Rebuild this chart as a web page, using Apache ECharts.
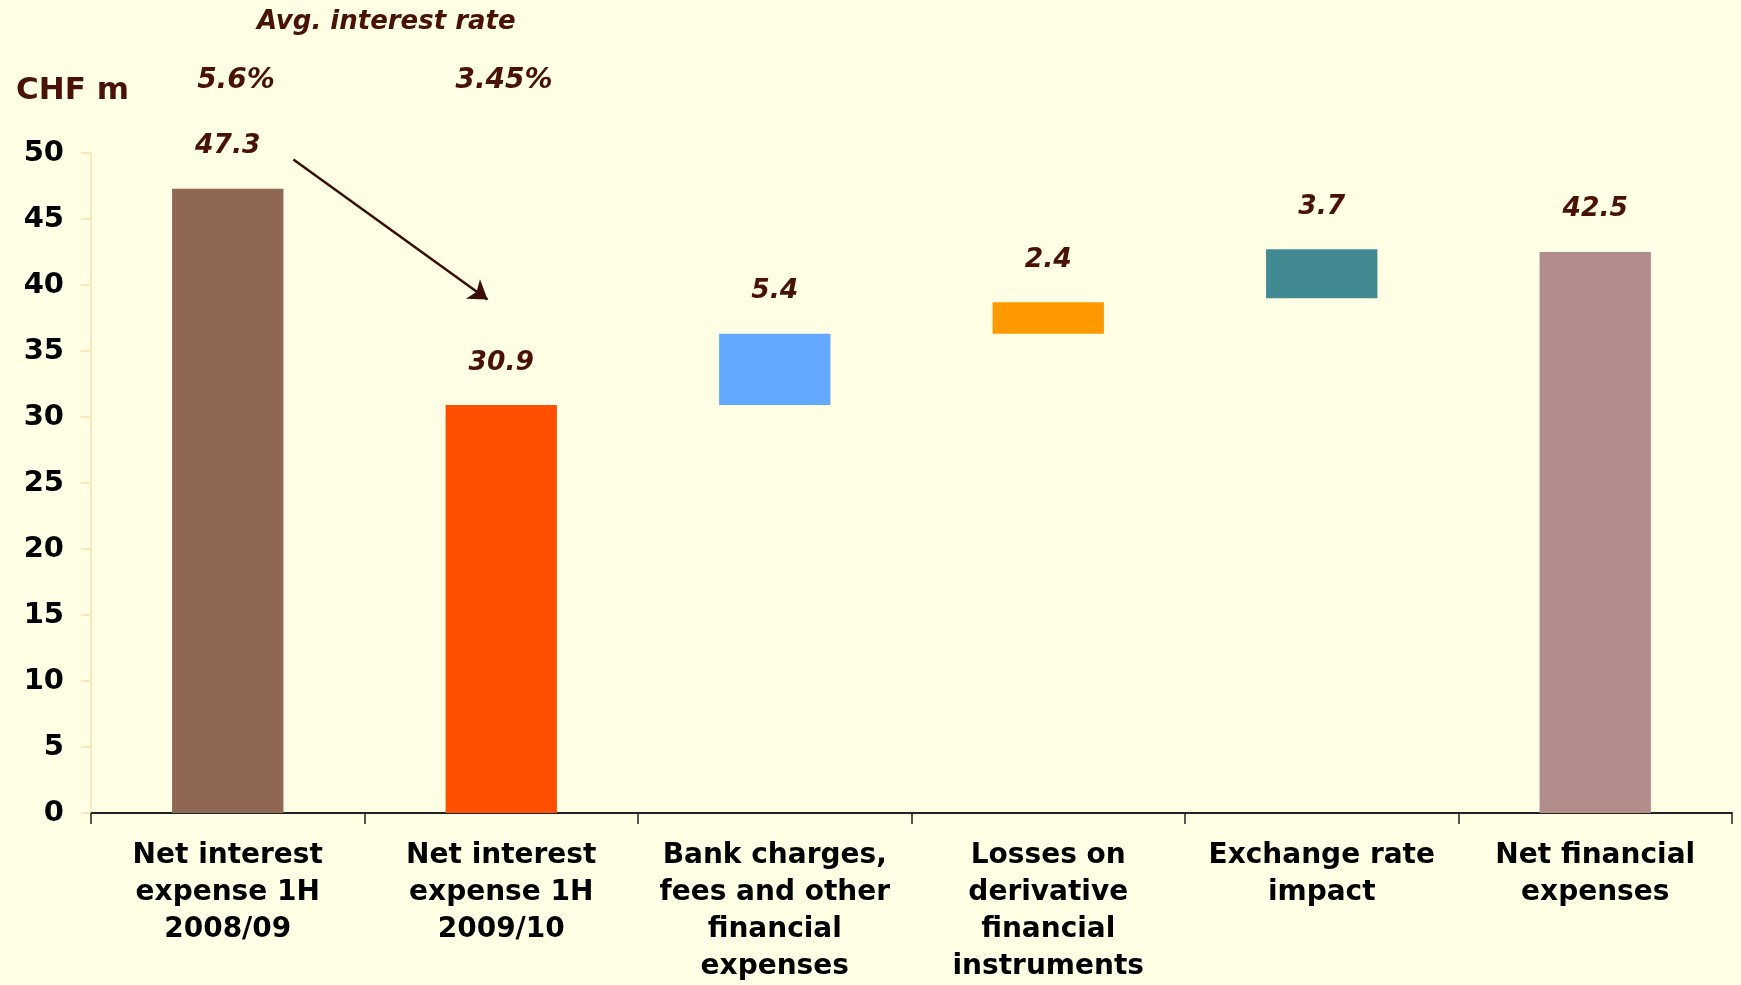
<!DOCTYPE html>
<html>
<head>
<meta charset="utf-8">
<script src="https://cdn.jsdelivr.net/npm/echarts@6/dist/echarts.min.js"></script>
<style>
  html, body { margin: 0; padding: 0; background: #FFFFE5; overflow: hidden; }
  #chart { width: 1741px; height: 985px; }
</style>
</head>
<body>
<div id="chart"></div>
<script>
// Bridge of financial expenses, CHF m
const categories = [
  'Net interest\nexpense 1H\n2008/09',
  'Net interest\nexpense 1H\n2009/10',
  'Bank charges,\nfees and other\nfinancial\nexpenses',
  'Losses on\nderivative\nfinancial\ninstruments',
  'Exchange rate\nimpact',
  'Net financial\nexpenses'
];
const barValues = [47.3, 30.9, 5.4, 2.4, 3.7, 42.5];   // bar heights (labelled)
const barStarts = [0, 0, 30.9, 36.3, 39.0, 0];        // where each bar begins
const barColors = ['#8F6753', '#FF5000', '#63A9FF', '#FF9900', '#428A91', '#B38C8C'];
const rateLabels = ['5.6%', '3.45%'];
const rateTitle = 'Avg. interest rate';
const unitLabel = 'CHF m';

const textBrown = '#4A1205';
const labelFont = 'DejaVu Sans';

const chart = echarts.init(document.getElementById('chart'), null, { renderer: 'canvas' });

chart.setOption({
  animation: false,
  backgroundColor: '#FFFFE5',
  title: {
    text: unitLabel,
    left: 11,
    top: 70,
    textStyle: { color: textBrown, fontFamily: labelFont, fontWeight: 'bold', fontSize: 31 }
  },
  grid: { left: 91, right: 9, top: 153, bottom: 168, containLabel: false },
  xAxis: [
    {
      type: 'category',
      data: categories,
      axisLine: { lineStyle: { color: '#222', width: 2 } },
      axisTick: { show: true, length: 11, lineStyle: { color: '#222', width: 1.5 } },
      axisLabel: {
        interval: 0,
        margin: 24,
        color: '#000',
        fontFamily: labelFont,
        fontWeight: 'bold',
        fontSize: 28,
        lineHeight: 37
      }
    },
    {
      // helper axis for annotations placed between category centres
      type: 'value',
      min: -0.5,
      max: 5.5,
      show: false
    }
  ],
  yAxis: {
    type: 'value',
    min: 0,
    max: 50,
    interval: 5,
    axisLine: { show: true, onZero: false, lineStyle: { color: '#FDE7B8', width: 2 } },
    axisTick: { show: true, length: 10, lineStyle: { color: '#FDE7B8', width: 2 } },
    splitLine: { show: false },
    axisLabel: {
      margin: 27,
      color: '#000',
      fontFamily: labelFont,
      fontWeight: 'bold',
      fontSize: 29
    }
  },
  series: [
    {
      name: 'start',
      type: 'bar',
      stack: 'bridge',
      barWidth: '40.7%',
      itemStyle: { color: 'transparent' },
      emphasis: { disabled: true },
      data: barStarts
    },
    {
      name: 'value',
      type: 'bar',
      stack: 'bridge',
      barWidth: '40.7%',
      data: barValues.map((v, i) => ({ value: v, itemStyle: { color: barColors[i] } })),
      label: {
        show: true,
        position: 'top',
        distance: 29,
        color: textBrown,
        fontFamily: labelFont,
        fontWeight: 'bold',
        fontStyle: 'italic',
        fontSize: 26.5,
        formatter: p => p.value.toFixed(1)
      }
    },
    {
      name: 'annotations',
      type: 'scatter',
      xAxisIndex: 1,
      clip: false,
      symbolSize: 1,
      itemStyle: { color: 'rgba(0,0,0,0)', opacity: 1 },
      emphasis: { disabled: true },
      data: [
        { value: [0.03, 55.5], name: rateLabels[0] },
        { value: [1.01, 55.5], name: rateLabels[1] },
        { value: [0.58, 59.9], name: rateTitle, label: { fontSize: 26 } }
      ],
      label: {
        show: true,
        position: 'inside',
        color: textBrown,
        fontFamily: labelFont,
        fontWeight: 'bold',
        fontStyle: 'italic',
        fontSize: 28,
        formatter: p => p.name
      },
      markLine: {
        silent: true,
        symbol: ['none', 'arrow'],
        symbolSize: 18,
        label: { show: false },
        lineStyle: { color: '#3A0D05', width: 2.5, type: 'solid', opacity: 1 },
        data: [[{ coord: [0.24, 49.5] }, { coord: [0.95, 38.9] }]]
      }
    }
  ]
});
</script>
</body>
</html>
